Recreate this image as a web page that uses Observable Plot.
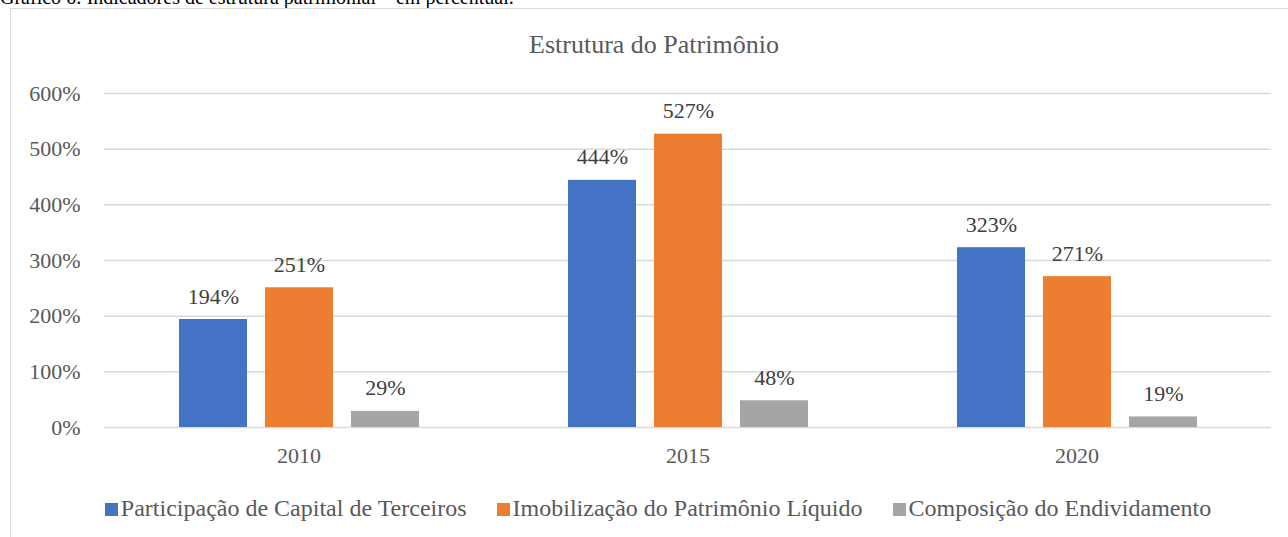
<!DOCTYPE html>
<html><head><meta charset="utf-8">
<script src="https://cdn.jsdelivr.net/npm/d3@7"></script>
<script src="https://cdn.jsdelivr.net/npm/@observablehq/plot@0.6"></script>
<style>
body{margin:0;background:#fff;font-family:"Liberation Serif","Times New Roman",serif;}
#wrap{position:relative;width:1288px;height:537px;overflow:hidden;}
#caption{position:absolute;left:0;top:-13px;font-size:20px;line-height:20px;color:#000;white-space:nowrap;}
#box{position:absolute;left:10px;top:8px;width:1300px;height:560px;border:1.5px solid #d9d9d9;box-sizing:border-box;}
#title{position:absolute;left:8px;width:1292px;top:32px;text-align:center;font-size:26px;line-height:26px;color:#595959;}
#chart{position:absolute;left:0;top:0;}
#legend{position:absolute;left:8px;width:1300px;top:496px;display:flex;justify-content:center;font-size:24px;line-height:24px;color:#595959;white-space:nowrap;}
#legend .item{margin:0 15px;}
#legend .sw{display:inline-block;width:13px;height:13px;margin-right:3px;vertical-align:0px;}
</style>
</head><body>
<div id="wrap">
<div id="caption">Gráfico 6: Indicadores de estrutura patrimonial – em percentual.</div>
<div id="box"></div>
<div id="chart"></div>
<div id="title">Estrutura do Patrimônio</div>
<div id="legend"></div>
</div>
<script>
const years = ["2010", "2015", "2020"];
const seriesNames = ["Participação de Capital de Terceiros", "Imobilização do Patrimônio Líquido", "Composição do Endividamento"];
const capitalTerceiros = [194, 444, 323];
const imobilizacaoPL = [251, 527, 271];
const composicaoEndiv = [29, 48, 19];
const yTicks = [0, 100, 200, 300, 400, 500, 600];
const colors = ["#4472C4", "#ED7D31", "#A5A5A5"];

const seriesValues = [capitalTerceiros, imobilizacaoPL, composicaoEndiv];
const data = years.flatMap((yr, i) => seriesNames.map((s, j) => ({year: yr, series: s, value: seriesValues[j][i]})));

const chart = Plot.plot({
  width: 1288, height: 537,
  marginLeft: 104, marginRight: 17, marginTop: 93, marginBottom: 110,
  style: {fontFamily: "'Liberation Serif', 'Times New Roman', serif", fontSize: "22px", color: "#595959", background: "transparent", overflow: "visible"},
  fx: {domain: years, padding: 0, label: null, axis: "bottom", tickSize: 0, tickPadding: 20},
  x: {domain: seriesNames, paddingInner: 0.214, paddingOuter: 0.854, axis: null},
  y: {domain: [0, 600], ticks: yTicks, tickFormat: d => d + "%", tickSize: 0, tickPadding: 24, label: null},
  color: {domain: seriesNames, range: colors},
  marks: [
    Plot.ruleY(yTicks, {stroke: "#d9d9d9", strokeWidth: 1.5}),
    Plot.barY(data, {fx: "year", x: "series", y: "value", fill: "series"}),
    Plot.text(data, {fx: "year", x: "series", y: "value", text: d => d.value + "%", lineAnchor: "bottom", dy: -16, fill: "#404040", fontSize: 22})
  ]
});
document.getElementById("chart").appendChild(chart);

const legend = document.getElementById("legend");
seriesNames.forEach((s, i) => {
  const item = document.createElement("span");
  item.className = "item";
  const sw = document.createElement("span");
  sw.className = "sw";
  sw.style.background = colors[i];
  item.appendChild(sw);
  item.appendChild(document.createTextNode(s));
  legend.appendChild(item);
});
</script>
</body></html>
